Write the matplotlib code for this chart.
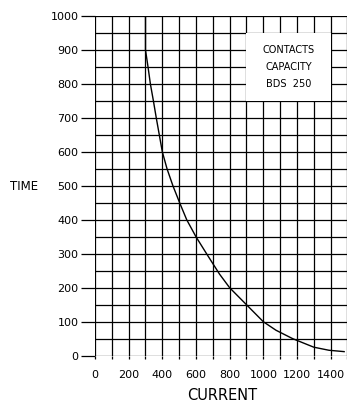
import matplotlib.pyplot as plt
from matplotlib.patches import Rectangle

# curve
current = [300, 300, 315, 329, 347, 364, 382, 400, 428, 463, 503, 545, 600,
           663, 740, 800, 900, 1000, 1075, 1175, 1300, 1390, 1480]
time = [1000, 900, 850, 800, 750, 700, 650, 600, 550, 500, 450, 400, 350,
        300, 240, 200, 150, 100, 75, 50, 25, 16, 12]

x_ticks = [0, 200, 400, 600, 800, 1000, 1200, 1400]
y_ticks = [0, 100, 200, 300, 400, 500, 600, 700, 800, 900, 1000]
box_lines = ["CONTACTS", "CAPACITY", "BDS  250"]

fig = plt.figure(figsize=(3.47, 4.05), dpi=100)
ax = fig.add_axes([95 / 347, 49.3 / 405, 252.5 / 347, 339.7 / 405])

ax.set_xlim(0, 1500)
ax.set_ylim(0, 1000)

# grid: every 100 in x, every 50 in y
for gx in range(0, 1501, 100):
    ax.axvline(gx, color="black", lw=0.9, zorder=1)
for gy in range(0, 1001, 50):
    ax.axhline(gy, color="black", lw=0.9, zorder=1)

# white label box
ax.add_patch(Rectangle((900, 750), 500, 200, facecolor="white",
                       edgecolor="none", zorder=2))
for i, t in enumerate(box_lines):
    ax.text(1150, 900 - i * 50, t, ha="center", va="center",
            fontsize=7, zorder=3)

ax.plot(current, time, color="black", lw=1.0, zorder=4)

for s in ax.spines.values():
    s.set_visible(False)

ax.set_xticks(x_ticks)
ax.set_yticks(y_ticks)
ax.set_xticks(range(0, 1501, 100), minor=True)
ax.tick_params(axis="y", length=10, width=0.9, pad=2, labelsize=8)
ax.tick_params(axis="x", which="both", length=2, width=0.9, pad=8, labelsize=8)

fig.text(24 / 347, 1 - 186.7 / 405, "TIME", ha="center", va="center", fontsize=8.5)
fig.text(222 / 347, 1 - 395 / 405, "CURRENT", ha="center", va="center", fontsize=10.5)

plt.savefig("out.png", dpi=100)
